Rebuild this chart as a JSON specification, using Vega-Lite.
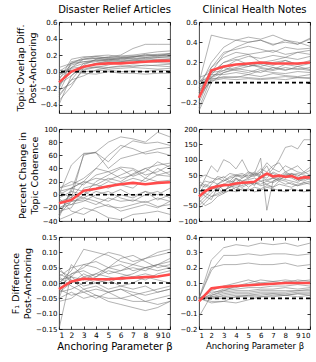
{
  "$schema": "https://vega.github.io/schema/vega-lite/v6.json",
  "padding": {"left": 10, "top": 4, "right": 2, "bottom": 2},
  "background": "white",
  "config": {
    "font": "DejaVu Sans",
    "view": {"stroke": "#333", "strokeWidth": 0.9},
    "axis": {"grid": false, "domain": false, "tickColor": "#000", "tickSize": -3, "tickWidth": 0.8, "labelPadding": 5, "labelColor": "#000", "labelFontSize": 7, "titleFontWeight": "normal", "titleColor": "#000", "titleFontSize": 9.5, "titleLineHeight": 12},
    "title": {"fontWeight": "normal", "fontSize": 10, "color": "#000", "offset": 3},
    "line": {"strokeJoin": "round"}
  },
  "datasets": {
    "a1": [
      {"s": "m", "x": [1,2,3,4,5,6,7,8,9,10], "y": [-0.13,0.0,0.06,0.09,0.1,0.1,0.11,0.12,0.13,0.13]},
      {"s": "g1", "x": [1,2,3,4,5,6,7,8,9,10], "y": [-0.3,-0.1,0.08,0.15,0.18,0.2,0.28,0.33,0.33,0.33]},
      {"s": "g2", "x": [1,2,3,4,5,6,7,8,9,10], "y": [-0.25,0.05,0.15,0.18,0.17,0.19,0.2,0.22,0.24,0.25]},
      {"s": "g3", "x": [1,2,3,4,5,6,7,8,9,10], "y": [-0.2,0.1,0.17,0.19,0.2,0.18,0.19,0.2,0.21,0.22]},
      {"s": "g4", "x": [1,2,3,4,5,6,7,8,9,10], "y": [-0.18,0.12,0.15,0.16,0.17,0.16,0.18,0.19,0.2,0.19]},
      {"s": "g5", "x": [1,2,3,4,5,6,7,8,9,10], "y": [-0.1,0.15,0.18,0.18,0.16,0.17,0.15,0.17,0.18,0.18]},
      {"s": "g6", "x": [1,2,3,4,5,6,7,8,9,10], "y": [-0.05,0.08,0.12,0.14,0.15,0.14,0.16,0.15,0.17,0.16]},
      {"s": "g7", "x": [1,2,3,4,5,6,7,8,9,10], "y": [0.0,0.1,0.15,0.16,0.15,0.13,0.14,0.13,0.14,0.15]},
      {"s": "g8", "x": [1,2,3,4,5,6,7,8,9,10], "y": [-0.15,-0.05,0.06,0.1,0.12,0.11,0.1,0.12,0.11,0.1]},
      {"s": "g9", "x": [1,2,3,4,5,6,7,8,9,10], "y": [-0.28,-0.1,-0.05,0.02,0.05,0.06,0.08,0.07,0.08,0.09]},
      {"s": "g10", "x": [1,2,3,4,5,6,7,8,9,10], "y": [0.02,0.0,-0.02,-0.03,0.0,-0.02,-0.02,-0.03,-0.02,-0.02]},
      {"s": "g11", "x": [1,2,3,4,5,6,7,8,9,10], "y": [-0.03,0.02,0.0,0.01,0.02,0.0,0.01,0.0,0.02,0.01]},
      {"s": "g12", "x": [1,2,3,4,5,6,7,8,9,10], "y": [-0.22,-0.15,0.02,0.05,0.08,0.12,0.14,0.16,0.17,0.18]},
      {"s": "g13", "x": [1,2,3,4,5,6,7,8,9,10], "y": [-0.08,0.05,0.1,0.12,0.14,0.16,0.18,0.17,0.19,0.2]},
      {"s": "g14", "x": [1,2,3,4,5,6,7,8,9,10], "y": [0.05,0.1,0.12,0.13,0.15,0.17,0.18,0.19,0.2,0.21]},
      {"s": "g15", "x": [1,2,3,4,5,6,7,8,9,10], "y": [-0.12,0.0,0.03,0.06,0.05,0.07,0.06,0.08,0.07,0.06]},
      {"s": "g16", "x": [1,2,3,4,5,6,7,8,9,10], "y": [-0.35,-0.18,0.05,0.1,0.13,0.15,0.17,0.21,0.19,0.22]},
      {"s": "g17", "x": [1,2,3,4,5,6,7,8,9,10], "y": [-0.02,0.04,0.06,0.05,0.03,0.04,0.05,0.04,0.03,0.04]},
      {"s": "g18", "x": [1,2,3,4,5,6,7,8,9,10], "y": [-0.4,-0.05,0.1,0.14,0.13,0.12,0.13,0.14,0.15,0.14]}
    ],
    "b1": [
      {"s": "m", "x": [1,2,3,4,5,6,7,8,9,10], "y": [-0.15,0.12,0.16,0.18,0.19,0.2,0.19,0.19,0.19,0.2]},
      {"s": "g1", "x": [1,2,3,4,5,6,7,8,9,10], "y": [0.0,0.47,0.44,0.42,0.4,0.42,0.38,0.4,0.38,0.43]},
      {"s": "g2", "x": [1,2,3,4,5,6,7,8,9,10], "y": [-0.05,0.2,0.35,0.42,0.45,0.43,0.47,0.42,0.38,0.44]},
      {"s": "g3", "x": [1,2,3,4,5,6,7,8,9,10], "y": [-0.1,0.1,0.28,0.35,0.4,0.42,0.37,0.42,0.4,0.36]},
      {"s": "g4", "x": [1,2,3,4,5,6,7,8,9,10], "y": [-0.15,0.15,0.3,0.33,0.36,0.33,0.3,0.35,0.33,0.34]},
      {"s": "g5", "x": [1,2,3,4,5,6,7,8,9,10], "y": [-0.2,0.08,0.2,0.25,0.28,0.3,0.32,0.28,0.3,0.32]},
      {"s": "g6", "x": [1,2,3,4,5,6,7,8,9,10], "y": [-0.25,0.05,0.15,0.22,0.26,0.24,0.27,0.25,0.23,0.26]},
      {"s": "g7", "x": [1,2,3,4,5,6,7,8,9,10], "y": [0.05,0.1,0.12,0.18,0.16,0.2,0.17,0.22,0.18,0.2]},
      {"s": "g8", "x": [1,2,3,4,5,6,7,8,9,10], "y": [-0.1,0.12,0.15,0.12,0.1,0.14,0.12,0.15,0.13,0.15]},
      {"s": "g9", "x": [1,2,3,4,5,6,7,8,9,10], "y": [-0.05,0.05,0.1,0.14,0.12,0.1,0.15,0.12,0.16,0.13]},
      {"s": "g10", "x": [1,2,3,4,5,6,7,8,9,10], "y": [0.0,0.08,0.08,0.1,0.08,0.12,0.1,0.09,0.11,0.1]},
      {"s": "g11", "x": [1,2,3,4,5,6,7,8,9,10], "y": [-0.15,0.03,0.06,0.05,0.08,0.06,0.09,0.07,0.06,0.08]},
      {"s": "g12", "x": [1,2,3,4,5,6,7,8,9,10], "y": [0.02,0.04,0.05,0.06,0.05,0.04,0.05,0.06,0.05,0.05]},
      {"s": "g13", "x": [1,2,3,4,5,6,7,8,9,10], "y": [-0.02,0.06,0.12,0.15,0.18,0.15,0.13,0.18,0.16,0.19]},
      {"s": "g14", "x": [1,2,3,4,5,6,7,8,9,10], "y": [-0.28,0.0,0.1,0.13,0.16,0.18,0.15,0.13,0.14,0.12]},
      {"s": "g15", "x": [1,2,3,4,5,6,7,8,9,10], "y": [-0.12,0.02,0.04,0.03,0.04,0.03,0.04,0.03,0.05,0.04]},
      {"s": "g16", "x": [1,2,3,4,5,6,7,8,9,10], "y": [-0.08,0.1,0.2,0.23,0.18,0.16,0.2,0.22,0.18,0.22]},
      {"s": "g17", "x": [1,2,3,4,5,6,7,8,9,10], "y": [0.0,0.15,0.25,0.3,0.28,0.2,0.22,0.25,0.3,0.28]}
    ],
    "a2": [
      {"s": "m", "x": [1,2,3,4,5,6,7,8,9,10], "y": [-13,-8,6,9,13,16,18,16,18,19]},
      {"s": "g1", "x": [1,2,3,4,5,6,7,8,9,10], "y": [-30,5,60,65,80,88,85,80,95,88]},
      {"s": "g2", "x": [1,2,3,4,5,6,7,8,9,10], "y": [0,45,63,64,50,70,82,78,80,75]},
      {"s": "g3", "x": [1,2,3,4,5,6,7,8,9,10], "y": [-10,-5,62,64,40,55,60,65,70,72]},
      {"s": "g4", "x": [1,2,3,4,5,6,7,8,9,10], "y": [-35,10,20,40,60,75,70,62,65,60]},
      {"s": "g5", "x": [1,2,3,4,5,6,7,8,9,10], "y": [10,20,15,30,35,42,40,30,35,45]},
      {"s": "g6", "x": [1,2,3,4,5,6,7,8,9,10], "y": [-20,-15,0,20,30,40,28,35,50,42]},
      {"s": "g7", "x": [1,2,3,4,5,6,7,8,9,10], "y": [5,-5,18,25,22,30,38,25,40,30]},
      {"s": "g8", "x": [1,2,3,4,5,6,7,8,9,10], "y": [-25,-20,10,15,25,20,32,40,30,35]},
      {"s": "g9", "x": [1,2,3,4,5,6,7,8,9,10], "y": [-5,5,0,10,20,15,10,25,20,22]},
      {"s": "g10", "x": [1,2,3,4,5,6,7,8,9,10], "y": [-15,0,-5,5,0,8,-2,5,0,10]},
      {"s": "g11", "x": [1,2,3,4,5,6,7,8,9,10], "y": [-30,-10,-8,-15,-5,-10,-8,-12,-5,-10]},
      {"s": "g12", "x": [1,2,3,4,5,6,7,8,9,10], "y": [0,10,5,-5,-10,0,-5,5,-8,0]},
      {"s": "g13", "x": [1,2,3,4,5,6,7,8,9,10], "y": [-20,-10,-5,-10,-18,-20,-15,-10,-18,-15]},
      {"s": "g14", "x": [1,2,3,4,5,6,7,8,9,10], "y": [-38,-30,-20,-25,-35,-38,-30,-28,-25,-30]},
      {"s": "g15", "x": [1,2,3,4,5,6,7,8,9,10], "y": [-10,-15,-10,0,5,-5,-10,0,5,-5]},
      {"s": "g16", "x": [1,2,3,4,5,6,7,8,9,10], "y": [5,10,20,15,10,18,25,20,30,28]},
      {"s": "g17", "x": [1,2,3,4,5,6,7,8,9,10], "y": [-5,-25,-30,-20,-15,-25,-20,-15,-20,-10]},
      {"s": "g18", "x": [1,2,3,4,5,6,7,8,9,10], "y": [10,15,25,40,35,25,30,40,45,48]}
    ],
    "b2": [
      {"s": "m", "x": [1,1.5,2,2.5,3,3.5,4,4.5,5,5.5,6,6.5,7,7.5,8,8.5,9,9.5,10], "y": [-20,-3,8,13,17,18,22,25,26,28,42,55,45,48,44,47,38,43,42]},
      {"s": "g1", "x": [1,1.5,2,2.5,3,3.5,4,4.5,5,5.5,6,6.5,7,7.5,8,8.5,9,9.5,10], "y": [-30,-10,20,40,30,45,50,40,55,50,60,50,70,100,140,145,135,165,165]},
      {"s": "g2", "x": [1,1.5,2,2.5,3,3.5,4,4.5,5,5.5,6,6.5,7,7.5,8,8.5,9,9.5,10], "y": [0,40,80,60,100,90,70,100,60,50,70,60,80,90,60,70,80,60,75]},
      {"s": "g3", "x": [1,1.5,2,2.5,3,3.5,4,4.5,5,5.5,6,6.5,7,7.5,8,8.5,9,9.5,10], "y": [-40,-20,0,20,30,40,45,50,40,55,105,-65,30,40,55,50,40,35,45]},
      {"s": "g4", "x": [1,1.5,2,2.5,3,3.5,4,4.5,5,5.5,6,6.5,7,7.5,8,8.5,9,9.5,10], "y": [-50,-30,-10,10,20,30,25,40,50,45,60,90,70,60,80,70,60,55,65]},
      {"s": "g5", "x": [1,1.5,2,2.5,3,3.5,4,4.5,5,5.5,6,6.5,7,7.5,8,8.5,9,9.5,10], "y": [10,30,25,45,40,55,50,45,60,55,50,30,40,45,50,55,45,60,50]},
      {"s": "g6", "x": [1,1.5,2,2.5,3,3.5,4,4.5,5,5.5,6,6.5,7,7.5,8,8.5,9,9.5,10], "y": [-20,0,10,5,15,20,35,30,40,50,45,40,60,50,40,55,50,40,45]},
      {"s": "g7", "x": [1,1.5,2,2.5,3,3.5,4,4.5,5,5.5,6,6.5,7,7.5,8,8.5,9,9.5,10], "y": [20,10,30,20,35,25,40,30,35,40,30,20,30,40,35,30,25,40,35]},
      {"s": "g8", "x": [1,1.5,2,2.5,3,3.5,4,4.5,5,5.5,6,6.5,7,7.5,8,8.5,9,9.5,10], "y": [-60,-40,-20,-10,0,10,20,15,25,20,30,35,40,30,50,45,35,30,40]},
      {"s": "g9", "x": [1,1.5,2,2.5,3,3.5,4,4.5,5,5.5,6,6.5,7,7.5,8,8.5,9,9.5,10], "y": [0,-10,-20,-15,-5,0,-5,5,0,10,5,15,10,20,15,10,20,25,30]},
      {"s": "g10", "x": [1,1.5,2,2.5,3,3.5,4,4.5,5,5.5,6,6.5,7,7.5,8,8.5,9,9.5,10], "y": [40,50,40,35,45,30,50,55,45,60,40,50,55,45,60,50,55,50,45]},
      {"s": "g11", "x": [1,1.5,2,2.5,3,3.5,4,4.5,5,5.5,6,6.5,7,7.5,8,8.5,9,9.5,10], "y": [-30,-50,-40,-20,-10,0,10,0,5,-5,0,10,5,0,-5,5,0,-5,0]},
      {"s": "g12", "x": [1,1.5,2,2.5,3,3.5,4,4.5,5,5.5,6,6.5,7,7.5,8,8.5,9,9.5,10], "y": [5,-20,-30,10,-10,20,0,30,10,25,15,20,10,30,20,25,15,20,25]},
      {"s": "g13", "x": [1,1.5,2,2.5,3,3.5,4,4.5,5,5.5,6,6.5,7,7.5,8,8.5,9,9.5,10], "y": [-10,20,10,0,20,10,40,20,30,15,55,80,40,35,45,40,30,45,40]},
      {"s": "g14", "x": [1,1.5,2,2.5,3,3.5,4,4.5,5,5.5,6,6.5,7,7.5,8,8.5,9,9.5,10], "y": [30,15,5,20,0,10,15,10,20,25,20,30,25,35,30,20,15,25,20]}
    ],
    "a3": [
      {"s": "m", "x": [1,2,3,4,5,6,7,8,9,10], "y": [-0.02,0.005,0.014,0.012,0.012,0.015,0.017,0.019,0.021,0.028]},
      {"s": "g1", "x": [1,2,3,4,5,6,7,8,9,10], "y": [-0.15,0.03,0.05,0.08,0.1,0.09,0.07,0.08,0.1,0.11]},
      {"s": "g2", "x": [1,2,3,4,5,6,7,8,9,10], "y": [0.0,0.04,0.11,0.1,0.09,0.07,0.06,0.05,0.06,0.08]},
      {"s": "g3", "x": [1,2,3,4,5,6,7,8,9,10], "y": [-0.05,0.06,0.02,0.03,0.05,0.08,0.09,0.07,0.05,0.06]},
      {"s": "g4", "x": [1,2,3,4,5,6,7,8,9,10], "y": [0.02,0.05,0.06,0.05,0.03,0.04,0.06,0.08,0.09,0.1]},
      {"s": "g5", "x": [1,2,3,4,5,6,7,8,9,10], "y": [0.05,0.0,0.03,0.01,0.0,0.02,0.03,0.05,0.04,0.05]},
      {"s": "g6", "x": [1,2,3,4,5,6,7,8,9,10], "y": [-0.03,-0.02,0.0,0.02,0.04,0.03,0.02,0.01,0.03,0.04]},
      {"s": "g7", "x": [1,2,3,4,5,6,7,8,9,10], "y": [0.01,0.02,-0.01,0.0,-0.02,-0.01,0.0,0.02,0.01,0.0]},
      {"s": "g8", "x": [1,2,3,4,5,6,7,8,9,10], "y": [-0.02,-0.04,-0.03,-0.05,-0.03,-0.02,-0.04,-0.03,-0.02,-0.01]},
      {"s": "g9", "x": [1,2,3,4,5,6,7,8,9,10], "y": [0.03,0.01,-0.02,-0.01,-0.03,-0.05,-0.04,-0.06,-0.05,-0.04]},
      {"s": "g10", "x": [1,2,3,4,5,6,7,8,9,10], "y": [-0.06,-0.05,-0.02,-0.04,-0.06,-0.07,-0.08,-0.09,-0.08,-0.06]},
      {"s": "g11", "x": [1,2,3,4,5,6,7,8,9,10], "y": [-0.05,-0.03,-0.05,-0.04,-0.05,-0.05,-0.06,-0.06,-0.07,-0.06]},
      {"s": "g12", "x": [1,2,3,4,5,6,7,8,9,10], "y": [0.0,0.03,0.04,0.02,0.05,0.04,0.05,0.04,0.06,0.05]},
      {"s": "g13", "x": [1,2,3,4,5,6,7,8,9,10], "y": [-0.01,0.02,0.01,0.03,0.02,0.01,0.02,0.03,0.02,0.03]},
      {"s": "g14", "x": [1,2,3,4,5,6,7,8,9,10], "y": [0.04,0.02,0.06,0.07,0.05,0.06,0.04,0.05,0.06,0.07]},
      {"s": "g15", "x": [1,2,3,4,5,6,7,8,9,10], "y": [-0.03,0.0,0.02,0.0,0.01,-0.01,-0.02,-0.01,-0.03,-0.02]},
      {"s": "g16", "x": [1,2,3,4,5,6,7,8,9,10], "y": [0.02,-0.01,-0.03,-0.02,-0.03,-0.02,-0.03,-0.04,-0.03,-0.02]}
    ],
    "b3": [
      {"s": "m", "x": [1,2,3,4,5,6,7,8,9,10], "y": [-0.02,0.065,0.075,0.08,0.085,0.09,0.095,0.1,0.1,0.1]},
      {"s": "g1", "x": [1,2,3,4,5,6,7,8,9,10], "y": [0.0,0.25,0.33,0.35,0.34,0.36,0.35,0.36,0.34,0.36]},
      {"s": "g2", "x": [1,2,3,4,5,6,7,8,9,10], "y": [0.0,0.18,0.28,0.28,0.29,0.28,0.29,0.29,0.28,0.29]},
      {"s": "g3", "x": [1,2,3,4,5,6,7,8,9,10], "y": [0.0,0.2,0.22,0.22,0.23,0.22,0.22,0.23,0.21,0.22]},
      {"s": "g4", "x": [1,2,3,4,5,6,7,8,9,10], "y": [-0.12,0.02,0.05,0.08,0.1,0.12,0.11,0.12,0.11,0.12]},
      {"s": "g5", "x": [1,2,3,4,5,6,7,8,9,10], "y": [0.0,0.05,0.08,0.1,0.12,0.1,0.11,0.1,0.12,0.11]},
      {"s": "g6", "x": [1,2,3,4,5,6,7,8,9,10], "y": [-0.02,0.03,0.06,0.07,0.09,0.1,0.09,0.11,0.1,0.1]},
      {"s": "g7", "x": [1,2,3,4,5,6,7,8,9,10], "y": [0.0,0.04,0.05,0.06,0.07,0.07,0.08,0.08,0.09,0.08]},
      {"s": "g8", "x": [1,2,3,4,5,6,7,8,9,10], "y": [0.0,0.02,0.04,0.05,0.05,0.06,0.06,0.07,0.06,0.07]},
      {"s": "g9", "x": [1,2,3,4,5,6,7,8,9,10], "y": [-0.01,0.01,0.03,0.04,0.04,0.05,0.05,0.05,0.05,0.06]},
      {"s": "g10", "x": [1,2,3,4,5,6,7,8,9,10], "y": [0.0,0.0,0.02,0.03,0.03,0.04,0.04,0.04,0.05,0.05]},
      {"s": "g11", "x": [1,2,3,4,5,6,7,8,9,10], "y": [0.0,-0.02,-0.02,0.01,0.02,0.03,0.03,0.03,0.04,0.04]},
      {"s": "g12", "x": [1,2,3,4,5,6,7,8,9,10], "y": [0.0,-0.03,-0.02,-0.03,-0.01,0.01,0.02,0.02,0.03,0.03]},
      {"s": "g13", "x": [1,2,3,4,5,6,7,8,9,10], "y": [0.0,0.01,0.01,0.02,0.02,0.02,0.03,0.02,0.03,0.02]},
      {"s": "g14", "x": [1,2,3,4,5,6,7,8,9,10], "y": [0.0,0.0,0.0,0.01,0.01,0.01,0.01,0.02,0.01,0.02]}
    ]
  },
  "columns": 2,
  "spacing": {"row": 16, "column": 29},
  "bounds": "flush",
  "concat": [
    {
      "width": 111, "height": 91,
      "title": {"text": "Disaster Relief Articles"},
      "data": {"name": "a1"},
      "layer": [
        {"transform": [{"flatten": ["x", "y"]}, {"filter": "datum.s != 'm'"}],
         "mark": {"type": "line", "stroke": "#6e6e6e", "strokeWidth": 0.7, "opacity": 0.75},
         "encoding": {
           "x": {"field": "x", "type": "quantitative", "scale": {"domain": [1, 10], "nice": false}, "axis": {"values": [1,2,3,4,5,6,7,8,9,10], "labels": false, "title": null}},
           "y": {"field": "y", "type": "quantitative", "scale": {"domain": [-0.5, 0.6], "nice": false}, "axis": {"values": [-0.4,-0.2,0,0.2,0.4,0.6], "format": ".1f", "title": ["Topic Overlap Diff.", "Post-Anchoring"], "titlePadding": 3}},
           "detail": {"field": "s"}}},
        {"data": {"values": [{"z": 0}]},
         "mark": {"type": "rule", "color": "#000", "strokeWidth": 1.6, "strokeDash": [4, 3]},
         "encoding": {"y": {"field": "z", "type": "quantitative", "scale": {"domain": [-0.5, 0.6], "nice": false}, "axis": null}}},
        {"transform": [{"flatten": ["x", "y"]}, {"filter": "datum.s == 'm'"}],
         "mark": {"type": "line", "stroke": "#ff4b4b", "strokeWidth": 2.6},
         "encoding": {
           "x": {"field": "x", "type": "quantitative", "scale": {"domain": [1, 10], "nice": false}, "axis": {"orient": "top", "values": [1,2,3,4,5,6,7,8,9,10], "labels": false, "title": null}},
           "y": {"field": "y", "type": "quantitative", "scale": {"domain": [-0.5, 0.6], "nice": false}, "axis": {"orient": "right", "values": [-0.4,-0.2,0,0.2,0.4,0.6], "labels": false, "title": null}}}}
      ],
      "resolve": {"axis": {"x": "independent", "y": "independent"}}
    },
    {
      "width": 111, "height": 91,
      "title": {"text": "Clinical Health Notes"},
      "data": {"name": "b1"},
      "layer": [
        {"transform": [{"flatten": ["x", "y"]}, {"filter": "datum.s != 'm'"}],
         "mark": {"type": "line", "stroke": "#6e6e6e", "strokeWidth": 0.7, "opacity": 0.75},
         "encoding": {
           "x": {"field": "x", "type": "quantitative", "scale": {"domain": [1, 10], "nice": false}, "axis": {"values": [1,2,3,4,5,6,7,8,9,10], "labels": false, "title": null}},
           "y": {"field": "y", "type": "quantitative", "scale": {"domain": [-0.3, 0.6], "nice": false}, "axis": {"values": [-0.2,0,0.2,0.4,0.6], "format": ".1f", "title": null}},
           "detail": {"field": "s"}}},
        {"data": {"values": [{"z": 0}]},
         "mark": {"type": "rule", "color": "#000", "strokeWidth": 1.6, "strokeDash": [4, 3]},
         "encoding": {"y": {"field": "z", "type": "quantitative", "scale": {"domain": [-0.3, 0.6], "nice": false}, "axis": null}}},
        {"transform": [{"flatten": ["x", "y"]}, {"filter": "datum.s == 'm'"}],
         "mark": {"type": "line", "stroke": "#ff4b4b", "strokeWidth": 2.6},
         "encoding": {
           "x": {"field": "x", "type": "quantitative", "scale": {"domain": [1, 10], "nice": false}, "axis": {"orient": "top", "values": [1,2,3,4,5,6,7,8,9,10], "labels": false, "title": null}},
           "y": {"field": "y", "type": "quantitative", "scale": {"domain": [-0.3, 0.6], "nice": false}, "axis": {"orient": "right", "values": [-0.2,0,0.2,0.4,0.6], "labels": false, "title": null}}}}
      ],
      "resolve": {"axis": {"x": "independent", "y": "independent"}}
    },
    {
      "width": 111, "height": 92,
      "data": {"name": "a2"},
      "layer": [
        {"transform": [{"flatten": ["x", "y"]}, {"filter": "datum.s != 'm'"}],
         "mark": {"type": "line", "stroke": "#6e6e6e", "strokeWidth": 0.7, "opacity": 0.75},
         "encoding": {
           "x": {"field": "x", "type": "quantitative", "scale": {"domain": [1, 10], "nice": false}, "axis": {"values": [1,2,3,4,5,6,7,8,9,10], "labels": false, "title": null}},
           "y": {"field": "y", "type": "quantitative", "scale": {"domain": [-40, 100], "nice": false}, "axis": {"values": [-40,-20,0,20,40,60,80,100], "format": "d", "title": ["Percent Change in", "Topic Coherence"], "titlePadding": 3}},
           "detail": {"field": "s"}}},
        {"data": {"values": [{"z": 0}]},
         "mark": {"type": "rule", "color": "#000", "strokeWidth": 1.6, "strokeDash": [4, 3]},
         "encoding": {"y": {"field": "z", "type": "quantitative", "scale": {"domain": [-40, 100], "nice": false}, "axis": null}}},
        {"transform": [{"flatten": ["x", "y"]}, {"filter": "datum.s == 'm'"}],
         "mark": {"type": "line", "stroke": "#ff4b4b", "strokeWidth": 2.6},
         "encoding": {
           "x": {"field": "x", "type": "quantitative", "scale": {"domain": [1, 10], "nice": false}, "axis": {"orient": "top", "values": [1,2,3,4,5,6,7,8,9,10], "labels": false, "title": null}},
           "y": {"field": "y", "type": "quantitative", "scale": {"domain": [-40, 100], "nice": false}, "axis": {"orient": "right", "values": [-40,-20,0,20,40,60,80,100], "labels": false, "title": null}}}}
      ],
      "resolve": {"axis": {"x": "independent", "y": "independent"}}
    },
    {
      "width": 111, "height": 92,
      "data": {"name": "b2"},
      "layer": [
        {"transform": [{"flatten": ["x", "y"]}, {"filter": "datum.s != 'm'"}],
         "mark": {"type": "line", "stroke": "#6e6e6e", "strokeWidth": 0.7, "opacity": 0.75},
         "encoding": {
           "x": {"field": "x", "type": "quantitative", "scale": {"domain": [1, 10], "nice": false}, "axis": {"values": [1,2,3,4,5,6,7,8,9,10], "labels": false, "title": null}},
           "y": {"field": "y", "type": "quantitative", "scale": {"domain": [-100, 200], "nice": false}, "axis": {"values": [-100,-50,0,50,100,150,200], "format": "d", "title": null}},
           "detail": {"field": "s"}}},
        {"data": {"values": [{"z": 0}]},
         "mark": {"type": "rule", "color": "#000", "strokeWidth": 1.6, "strokeDash": [4, 3]},
         "encoding": {"y": {"field": "z", "type": "quantitative", "scale": {"domain": [-100, 200], "nice": false}, "axis": null}}},
        {"transform": [{"flatten": ["x", "y"]}, {"filter": "datum.s == 'm'"}],
         "mark": {"type": "line", "stroke": "#ff4b4b", "strokeWidth": 2.6},
         "encoding": {
           "x": {"field": "x", "type": "quantitative", "scale": {"domain": [1, 10], "nice": false}, "axis": {"orient": "top", "values": [1,2,3,4,5,6,7,8,9,10], "labels": false, "title": null}},
           "y": {"field": "y", "type": "quantitative", "scale": {"domain": [-100, 200], "nice": false}, "axis": {"orient": "right", "values": [-100,-50,0,50,100,150,200], "labels": false, "title": null}}}}
      ],
      "resolve": {"axis": {"x": "independent", "y": "independent"}}
    },
    {
      "width": 111, "height": 92,
      "data": {"name": "a3"},
      "layer": [
        {"transform": [{"flatten": ["x", "y"]}, {"filter": "datum.s != 'm'"}],
         "mark": {"type": "line", "stroke": "#6e6e6e", "strokeWidth": 0.7, "opacity": 0.75},
         "encoding": {
           "x": {"field": "x", "type": "quantitative", "scale": {"domain": [1, 10], "nice": false}, "axis": {"values": [1,2,3,4,5,6,7,8,9,10], "format": "d", "title": "Anchoring Parameter β", "titleFontSize": 10, "titlePadding": 3, "labelFontSize": 7.5}},
           "y": {"field": "y", "type": "quantitative", "scale": {"domain": [-0.15, 0.15], "nice": false}, "axis": {"values": [-0.15,-0.1,-0.05,0,0.05,0.1,0.15], "format": ".2f", "title": ["F₁ Difference", "Post-Anchoring"], "titlePadding": 3}},
           "detail": {"field": "s"}}},
        {"data": {"values": [{"z": 0}]},
         "mark": {"type": "rule", "color": "#000", "strokeWidth": 1.6, "strokeDash": [4, 3]},
         "encoding": {"y": {"field": "z", "type": "quantitative", "scale": {"domain": [-0.15, 0.15], "nice": false}, "axis": null}}},
        {"transform": [{"flatten": ["x", "y"]}, {"filter": "datum.s == 'm'"}],
         "mark": {"type": "line", "stroke": "#ff4b4b", "strokeWidth": 2.6},
         "encoding": {
           "x": {"field": "x", "type": "quantitative", "scale": {"domain": [1, 10], "nice": false}, "axis": {"orient": "top", "values": [1,2,3,4,5,6,7,8,9,10], "labels": false, "title": null}},
           "y": {"field": "y", "type": "quantitative", "scale": {"domain": [-0.15, 0.15], "nice": false}, "axis": {"orient": "right", "values": [-0.15,-0.1,-0.05,0,0.05,0.1,0.15], "labels": false, "title": null}}}}
      ],
      "resolve": {"axis": {"x": "independent", "y": "independent"}}
    },
    {
      "width": 111, "height": 92,
      "data": {"name": "b3"},
      "layer": [
        {"transform": [{"flatten": ["x", "y"]}, {"filter": "datum.s != 'm'"}],
         "mark": {"type": "line", "stroke": "#6e6e6e", "strokeWidth": 0.7, "opacity": 0.75},
         "encoding": {
           "x": {"field": "x", "type": "quantitative", "scale": {"domain": [1, 10], "nice": false}, "axis": {"values": [1,2,3,4,5,6,7,8,9,10], "format": "d", "title": "Anchoring Parameter β", "titleFontSize": 8.5, "titlePadding": 3}},
           "y": {"field": "y", "type": "quantitative", "scale": {"domain": [-0.2, 0.4], "nice": false}, "axis": {"values": [-0.2,-0.1,0,0.1,0.2,0.3,0.4], "format": ".1f", "title": null}},
           "detail": {"field": "s"}}},
        {"data": {"values": [{"z": 0}]},
         "mark": {"type": "rule", "color": "#000", "strokeWidth": 1.6, "strokeDash": [4, 3]},
         "encoding": {"y": {"field": "z", "type": "quantitative", "scale": {"domain": [-0.2, 0.4], "nice": false}, "axis": null}}},
        {"transform": [{"flatten": ["x", "y"]}, {"filter": "datum.s == 'm'"}],
         "mark": {"type": "line", "stroke": "#ff4b4b", "strokeWidth": 2.6},
         "encoding": {
           "x": {"field": "x", "type": "quantitative", "scale": {"domain": [1, 10], "nice": false}, "axis": {"orient": "top", "values": [1,2,3,4,5,6,7,8,9,10], "labels": false, "title": null}},
           "y": {"field": "y", "type": "quantitative", "scale": {"domain": [-0.2, 0.4], "nice": false}, "axis": {"orient": "right", "values": [-0.2,-0.1,0,0.1,0.2,0.3,0.4], "labels": false, "title": null}}}}
      ],
      "resolve": {"axis": {"x": "independent", "y": "independent"}}
    }
  ]
}
